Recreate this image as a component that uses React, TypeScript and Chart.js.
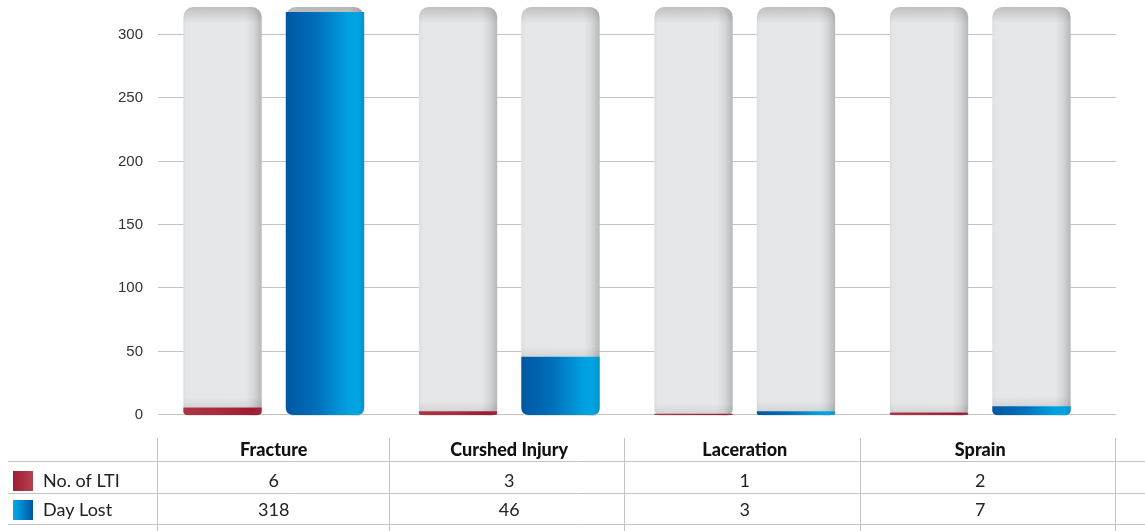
import React, { useEffect, useRef } from "react";
import { Chart, registerables } from "chart.js";

Chart.register(...registerables);

const categories = ["Fracture", "Curshed Injury", "Laceration", "Sprain"];
const seriesNames = ["No. of LTI", "Day Lost"];
const ltiValues = [6, 3, 1, 2];
const dayLostValues = [318, 46, 3, 7];
const yTicks = [0, 50, 100, 150, 200, 250, 300];
const yMax = 322;

const LINE = "#c4c4c4";

function redGrad(ctx: CanvasRenderingContext2D, x0: number, w: number, reverse = false) {
  const g = ctx.createLinearGradient(x0, 0, x0 + w, 0);
  if (!reverse) {
    g.addColorStop(0, "#ac3544");
    g.addColorStop(0.5, "#a62b3e");
    g.addColorStop(0.88, "#9e1b34");
    g.addColorStop(1, "#a3273b");
  } else {
    g.addColorStop(0, "#a31a35");
    g.addColorStop(1, "#b3424f");
  }
  return g;
}

function blueGrad(ctx: CanvasRenderingContext2D, x0: number, w: number, reverse = false) {
  const g = ctx.createLinearGradient(x0, 0, x0 + w, 0);
  if (!reverse) {
    g.addColorStop(0, "#0056a3");
    g.addColorStop(0.4, "#0070bb");
    g.addColorStop(0.8, "#00a1e1");
    g.addColorStop(0.92, "#00a3e3");
    g.addColorStop(1, "#0091cd");
  } else {
    g.addColorStop(0, "#00abec");
    g.addColorStop(1, "#0056a2");
  }
  return g;
}

const customPlugin = {
  id: "customDraw",
  beforeDatasetsDraw(chart: any) {
    const { ctx, chartArea, scales } = chart;
    const y = scales.y;
    ctx.save();
    ctx.strokeStyle = LINE;
    ctx.lineWidth = 1;
    y.ticks.forEach((t: any) => {
      const py = Math.round(y.getPixelForValue(t.value)) - 0.5;
      ctx.beginPath();
      ctx.moveTo(chartArea.left + 2, py);
      ctx.lineTo(1116, py);
      ctx.stroke();
    });
    const base = y.getPixelForValue(0);
    [0, 1].forEach((di) => {
      const meta = chart.getDatasetMeta(di);
      meta.data.forEach((el: any) => {
        const w = el.width;
        const x0 = el.x - w / 2;
        const top = chartArea.top;
        const bot = base + 1;
        const g = ctx.createLinearGradient(x0, 0, x0 + w, 0);
        g.addColorStop(0, "#dddee0");
        g.addColorStop(0.05, "#e5e6e7");
        g.addColorStop(0.8, "#e6e7e8");
        g.addColorStop(0.9, "#d6d7d9");
        g.addColorStop(1, "#b6b7b9");
        ctx.save();
        ctx.beginPath();
        (ctx as any).roundRect(x0, top, w, bot - top, [10, 10, 7, 7]);
        ctx.fillStyle = g;
        ctx.fill();
        ctx.clip();
        const gv = ctx.createLinearGradient(0, top, 0, top + 16);
        gv.addColorStop(0, "rgba(110,112,115,0.32)");
        gv.addColorStop(1, "rgba(110,112,115,0)");
        ctx.fillStyle = gv;
        ctx.fillRect(x0, top, w, 16);
        const cy = el.y;
        const gs = ctx.createLinearGradient(0, cy - 10, 0, cy);
        gs.addColorStop(0, "rgba(0,0,0,0)");
        gs.addColorStop(1, "rgba(0,0,0,0.08)");
        ctx.fillStyle = gs;
        ctx.fillRect(x0, cy - 10, w, 10);
        ctx.restore();
        const cg = di === 0 ? redGrad(ctx, x0, w) : blueGrad(ctx, x0, w);
        el.options = Object.assign({}, el.options, { backgroundColor: cg });
      });
    });
    ctx.restore();
  },
  afterDraw(chart: any) {
    const { ctx, chartArea, scales } = chart;
    const xs = scales.x;
    const W = chart.width;
    const H = chart.height;
    ctx.save();
    ctx.strokeStyle = LINE;
    ctx.lineWidth = 1;
    [461, 493, 524].forEach((yy) => {
      ctx.beginPath();
      ctx.moveTo(8, yy + 0.5);
      ctx.lineTo(W, yy + 0.5);
      ctx.stroke();
    });
    const xsLines: number[] = [chartArea.left + 2];
    for (let i = 0; i < categories.length - 1; i++) {
      xsLines.push((xs.getPixelForValue(i) + xs.getPixelForValue(i + 1)) / 2 - 2);
    }
    xsLines.push(1116);
    xsLines.forEach((xx) => {
      const px = Math.round(xx) - 0.5;
      ctx.beginPath();
      ctx.moveTo(px, 438);
      ctx.lineTo(px, H);
      ctx.stroke();
    });
    ctx.fillStyle = "#111";
    ctx.textAlign = "center";
    ctx.textBaseline = "middle";
    ctx.font = "900 18px Lato";
    categories.forEach((c, i) => {
      ctx.fillText(c, xs.getPixelForValue(i), 450);
    });
    const rows = [ltiValues, dayLostValues];
    const rowY = [481, 510];
    ctx.font = "18px Lato";
    ctx.fillStyle = "#222";
    rows.forEach((vals, r) => {
      vals.forEach((v, i) => {
        ctx.fillText(String(v), xs.getPixelForValue(i), rowY[r]);
      });
    });
    ctx.textAlign = "left";
    seriesNames.forEach((name, r) => {
      const sy = rowY[r] - 10;
      ctx.fillStyle = r === 0 ? redGrad(ctx, 13, 20, true) : blueGrad(ctx, 13, 20, true);
      ctx.fillRect(13, sy, 20, 20);
      ctx.fillStyle = "#222";
      ctx.fillText(name, 43, rowY[r]);
    });
    ctx.restore();
  },
};

export default function App() {
  const ref = useRef<HTMLCanvasElement | null>(null);
  useEffect(() => {
    if (!ref.current) return;
    const chart = new Chart(ref.current, {
      type: "bar",
      data: {
        labels: categories,
        datasets: [
          {
            label: seriesNames[0],
            data: ltiValues,
            backgroundColor: "#a62b3e",
            borderRadius: { topLeft: 0, topRight: 0, bottomLeft: 7, bottomRight: 7 },
            borderSkipped: false,
            categoryPercentage: 0.87,
            barPercentage: 0.765,
          },
          {
            label: seriesNames[1],
            data: dayLostValues,
            backgroundColor: "#0078c0",
            borderRadius: { topLeft: 0, topRight: 0, bottomLeft: 7, bottomRight: 7 },
            borderSkipped: false,
            categoryPercentage: 0.87,
            barPercentage: 0.765,
          },
        ],
      },
      options: {
        responsive: false,
        animation: false,
        layout: { padding: { top: 7, right: 47, bottom: 116, left: 0 } },
        plugins: {
          legend: { display: false },
          tooltip: { enabled: false },
        },
        scales: {
          x: { display: false },
          y: {
            min: 0,
            max: yMax,
            grid: { display: false, drawTicks: false },
            border: { display: false },
            ticks: {
              padding: 13,
              color: "#333",
              font: { family: "'Liberation Sans', Arial, sans-serif", size: 15 },
            },
            afterBuildTicks: (scale: any) => {
              scale.ticks = yTicks.map((v) => ({ value: v }));
            },
            afterFit: (scale: any) => {
              scale.width = 156;
              scale.paddingTop = 0;
              scale.paddingBottom = 0;
            },
          },
        },
      },
      plugins: [customPlugin],
    });
    return () => chart.destroy();
  }, []);
  return (
    <div style={{ position: "fixed", left: 0, top: 0, width: 1145, height: 531, background: "#fff" }}>
      <canvas ref={ref} width={1145} height={531} style={{ display: "block" }} />
    </div>
  );
}
